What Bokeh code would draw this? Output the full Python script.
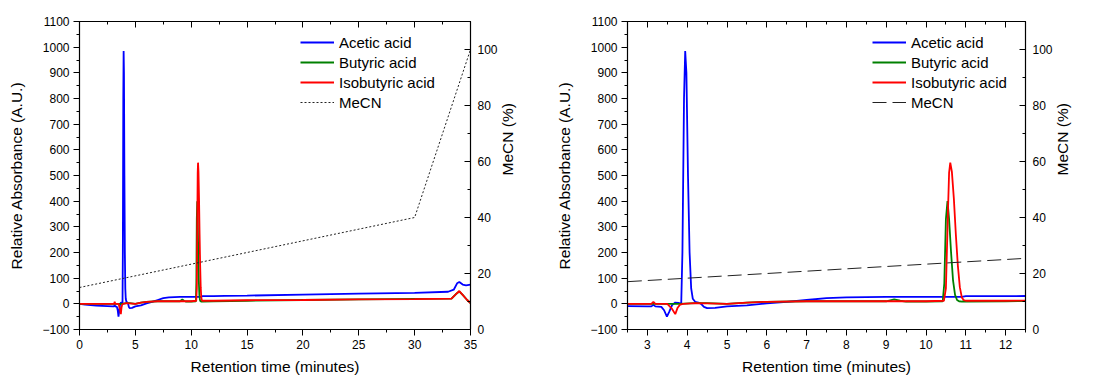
import math
from bokeh.plotting import figure
from bokeh.models import (Range1d, LinearAxis, SingleIntervalTicker, Legend, LegendItem,
                          CustomJSTickFormatter)
from bokeh.layouts import row
from bokeh.embed import file_html
from bokeh.resources import INLINE

# ---------------- data ----------------
acetic_t = [0, 0.5, 1.0, 1.5, 2.0, 2.5, 3.0, 3.1, 3.15, 3.2, 3.35, 3.42, 3.49, 3.55, 3.62, 3.7, 3.78,
            3.85, 3.88, 3.92, 3.95, 3.98, 4.02, 4.06, 4.1, 4.14, 4.2, 4.28, 4.35, 4.42, 4.5, 4.7, 5.0,
            5.5, 6.0, 6.5, 7.0, 7.5, 8.0, 9.0, 10.0, 10.9, 11.0, 12.0, 13.0, 15.0, 20.0, 25.0, 30.0,
            33.0, 33.5, 33.8, 34.0, 34.3, 34.6, 35.0]
acetic_v = [0, -3, -5, -7, -8, -9, -10, -10, -4, -10, -12, -25, -50, -30, -5, 5, 4,
            0, 200, 800, 985, 900, 500, 200, 60, 20, 8, 5, 0, -12, -17, -16, -10,
            -6, 2, 8, 15, 22, 25, 27, 27, 27, 30, 30, 31, 32, 36, 40, 43,
            47, 55, 80, 85, 75, 72, 75]

butyric_t = [0, 1, 2, 3, 3.5, 3.8, 4.2, 4.5, 5.0, 5.5, 6.0, 7.0, 8.0, 9.0, 9.2, 9.35, 9.5, 9.6, 10.0,
             10.42, 10.46, 10.5, 10.54, 10.58, 10.63, 10.68, 10.73, 10.78, 10.83, 10.9, 11.0, 12.0,
             15.0, 20.0, 25.0, 30.0, 33.3, 33.7, 34.0, 34.3, 34.7, 35.0]
butyric_v = [0, 0, 0, 0, 0, 0, 3, 3, 0, 5, 8, 10, 10, 10, 17, 12, 9, 9, 9,
             10, 80, 330, 400, 330, 200, 90, 35, 15, 10, 9, 9, 10,
             12, 15, 17, 19, 20, 38, 48, 35, 15, 3]

isobutyric_t = [0, 1, 2, 3, 3.1, 3.15, 3.2, 3.5, 3.62, 3.7, 3.76, 3.82, 3.9, 4.2, 4.5, 5.0, 5.5, 6.0,
                7.0, 8.0, 9.0, 10.0, 10.45, 10.5, 10.55, 10.58, 10.61, 10.65, 10.7, 10.75, 10.8,
                10.85, 10.9, 10.95, 11.0, 12.0, 15.0, 20.0, 25.0, 30.0, 33.3, 33.7, 34.0, 34.3,
                34.7, 35.0]
isobutyric_v = [0, 0, 0, 0, 0, 8, 0, 0, -20, -40, -15, -3, 0, 3, 2, 0, 5, 8,
                10, 10, 10, 10, 12, 60, 350, 510, 550, 515, 410, 270, 150,
                65, 25, 14, 12, 12, 14, 15, 17, 18, 20, 38, 50, 35,
                15, 3]

mecn_t = [0, 30, 35]
mecn_v = [15, 40, 100]

x_title = "Retention time (minutes)"
y_title = "Relative Absorbance (A.U.)"
y2_title = "MeCN (%)"
series_names = ["Acetic acid", "Butyric acid", "Isobutyric acid", "MeCN"]

FONT = "Liberation Sans"


def style_axis(ax, tick_out=True):
    ax.axis_line_color = "black"
    ax.axis_line_width = 1.2
    ax.major_tick_line_color = "black"
    ax.minor_tick_line_color = "black"
    ax.major_label_text_font = FONT
    ax.major_label_text_font_size = "12px"
    ax.major_label_text_color = "black"
    ax.axis_label_text_font = FONT
    ax.axis_label_text_font_size = "15.5px"
    ax.axis_label_text_font_style = "normal"
    ax.axis_label_text_color = "black"
    if tick_out:
        ax.major_tick_out = 6
        ax.major_tick_in = 0
        ax.minor_tick_out = 3
        ax.minor_tick_in = 0
    else:
        ax.major_tick_out = 0
        ax.major_tick_in = 6
        ax.minor_tick_out = 0
        ax.minor_tick_in = 3


def make(width, bl, br, xr, xint, mecn_dash, leg_x):
    p = figure(width=width, height=378, x_range=Range1d(*xr), y_range=Range1d(-100, 1100),
               output_backend="svg", toolbar_location=None,
               min_border_left=bl, min_border_right=br, min_border_top=21, min_border_bottom=49)
    p.extra_y_ranges = {"mecn": Range1d(0, 110)}
    p.xgrid.visible = False
    p.ygrid.visible = False
    p.outline_line_color = "black"
    p.background_fill_color = "white"
    p.border_fill_color = "white"

    p.xaxis.ticker = SingleIntervalTicker(interval=xint, num_minor_ticks=2)
    p.yaxis.ticker = SingleIntervalTicker(interval=100, num_minor_ticks=2)
    p.xaxis.axis_label = x_title
    p.yaxis.axis_label = y_title
    for ax in p.xaxis:
        style_axis(ax)
        ax.major_label_standoff = 4
        ax.axis_label_standoff = 6
    for ax in p.yaxis:
        style_axis(ax)
        ax.major_label_standoff = 4
        ax.axis_label_standoff = 14

    top = LinearAxis(ticker=SingleIntervalTicker(interval=xint, num_minor_ticks=2),
                     formatter=CustomJSTickFormatter(code="return ''"))
    style_axis(top, tick_out=False)
    top.major_label_standoff = 0
    p.add_layout(top, "above")

    right = LinearAxis(y_range_name="mecn",
                       ticker=SingleIntervalTicker(interval=20, num_minor_ticks=2),
                       axis_label=y2_title)
    style_axis(right, tick_out=False)
    right.major_label_standoff = 7
    right.axis_label_standoff = 7
    right.axis_label_orientation = math.pi / 2
    p.add_layout(right, "right")

    r1 = p.line(acetic_t, acetic_v, line_color="#0000ff", line_width=1.8)
    r2 = p.line(butyric_t, butyric_v, line_color="#008000", line_width=1.8)
    r3 = p.line(isobutyric_t, isobutyric_v, line_color="#ff0000", line_width=1.8)
    r4 = p.line(mecn_t, mecn_v, y_range_name="mecn", line_color="#222222",
                line_width=1, line_dash=mecn_dash)

    legend = Legend(items=[LegendItem(label=series_names[0], renderers=[r1]),
                           LegendItem(label=series_names[1], renderers=[r2]),
                           LegendItem(label=series_names[2], renderers=[r3]),
                           LegendItem(label=series_names[3], renderers=[r4])],
                    location=(leg_x, 217))
    legend.background_fill_alpha = 0
    legend.border_line_color = None
    legend.padding = 0
    legend.margin = 0
    legend.spacing = 0
    legend.label_height = 20
    legend.glyph_height = 20
    legend.glyph_width = 34
    legend.label_standoff = 5
    legend.label_text_font = FONT
    legend.label_text_font_size = "15px"
    legend.label_text_color = "black"
    p.add_layout(legend, "center")
    return p


p1 = make(550, 79, 80, (0, 35), 5, "2 2", 221)
p2 = make(552, 77, 77, (2.5, 12.5), 1, "14 6", 245)

layout = row(p1, p2)
open("out.html", "w").write(file_html(layout, INLINE))
